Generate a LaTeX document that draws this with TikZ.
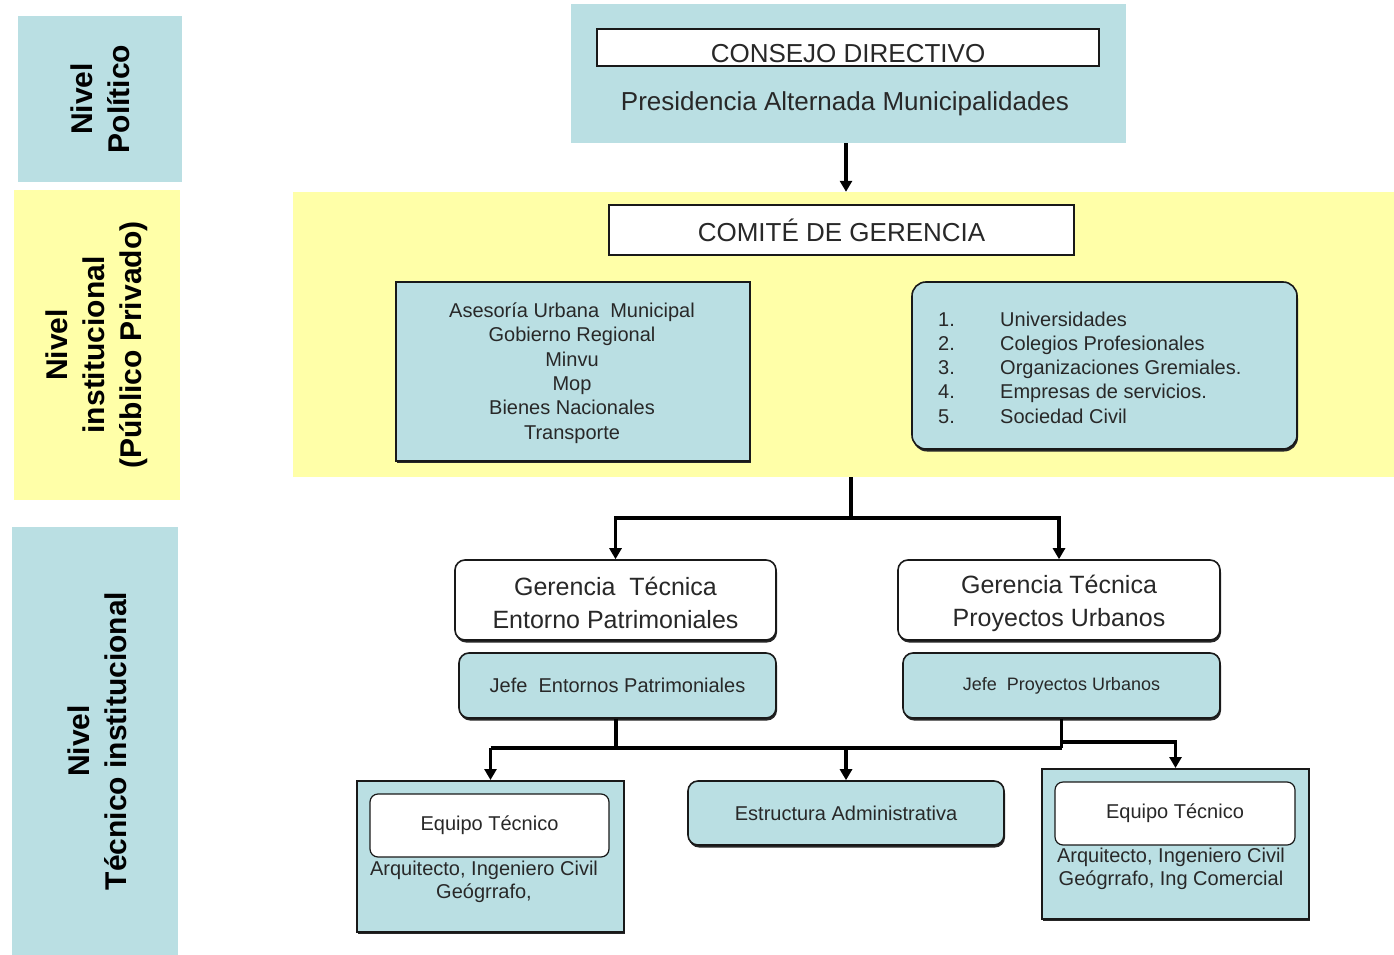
\documentclass[tikz,border=0pt]{standalone}
\usepackage{fontspec}
\setmainfont{Liberation Sans}
\usetikzlibrary{arrows.meta,shadows}
\definecolor{tealbg}{RGB}{186,223,227}
\definecolor{yelbg}{RGB}{255,255,168}
\definecolor{txt}{RGB}{40,40,40}
\tikzset{
  panel/.style={draw=none, inner sep=0pt},
  lbl/.style={rotate=90, align=center, font=\fontsize{30}{37}\selectfont\bfseries, text=black},
  sqbox/.style={draw=black!90, line width=2pt, inner sep=0pt, fill=tealbg, text=txt,
     drop shadow={shadow xshift=1pt, shadow yshift=-2pt, opacity=1, fill=black!85}},
  rbox/.style={draw=black!90, line width=1.6pt, rounded corners=10pt, inner sep=0pt, text=txt,
     drop shadow={shadow xshift=1pt, shadow yshift=-2.5pt, opacity=1, fill=black!85}},
  wbox/.style={draw=black!90, line width=1.4pt, inner sep=0pt, fill=white, text=txt},
  plain/.style={inner sep=0pt, text=txt, align=center},
  conn/.style={line width=3.5pt, draw=black},
  arr/.style={conn, -{Triangle[width=12pt,length=11pt]}},
}
\begin{document}
\begin{tikzpicture}[x=1pt,y=-1pt]
\useasboundingbox (0,0) rectangle (1394,955);
% left level labels
\node[panel, fill=tealbg, minimum width=164, minimum height=166] (lp) at (100,99) {};
\node[lbl] (lpt) at (lp) {Nivel\\Político};
\node[panel, fill=yelbg, minimum width=166, minimum height=310] (li) at (97,345) {};
\node[lbl] (lit) at (li) {Nivel\\institucional\\(Público Privado)};
\node[panel, fill=tealbg, minimum width=166, minimum height=428] (lt) at (95,741) {};
\node[lbl] (ltt) at ([xshift=2pt]lt.center) {Nivel\\Técnico institucional};
% top
\node[panel, fill=tealbg, minimum width=555, minimum height=139] (top) at (848.5,73.5) {};
\node[wbox, minimum width=502, minimum height=37, text height=34pt, text depth=3pt, font=\fontsize{26}{30}\selectfont] (cons) at (848,47.5) {CONSEJO DIRECTIVO};
\node[plain, font=\fontsize{26}{30}\selectfont] (pres) at (845,104) {Presidencia Alternada Municipalidades};
% institutional band
\node[panel, fill=yelbg, minimum width=1101, minimum height=285] (band) at (843.5,334.5) {};
\draw[arr] (top.south -| 846,0) -- (band.north -| 846,0);
\node[wbox, minimum width=465, minimum height=50, font=\fontsize{26}{30}\selectfont] (com) at (841.5,230) {COMITÉ DE GERENCIA};
\node[sqbox, minimum width=354, minimum height=179] (pub) at (573,371.5) {};
\node[plain, font=\fontsize{20}{24.4}\selectfont] (pubt) at (572,373) {Asesoría Urbana\ \ Municipal\\Gobierno Regional\\Minvu\\Mop\\Bienes Nacionales\\Transporte};
\node[rbox, rounded corners=14pt, fill=tealbg, minimum width=385, minimum height=167] (priv) at (1104.5,365.5) {};
\node[plain, align=left, anchor=west, font=\fontsize{20}{24.3}\selectfont] (privt) at (938,367.5)
 {\makebox[62pt][l]{1.}Universidades\\\makebox[62pt][l]{2.}Colegios Profesionales\\\makebox[62pt][l]{3.}Organizaciones Gremiales.\\\makebox[62pt][l]{4.}Empresas de servicios.\\\makebox[62pt][l]{5.}Sociedad Civil};
% gerencias
\coordinate (j1) at (851,518);
\node[rbox, fill=white, minimum width=321, minimum height=80] (gt1) at (615.5,600) {};
\node[plain, font=\fontsize{25}{33}\selectfont] (gt1t) at (615.5,603) {Gerencia\ \ Técnica\\Entorno Patrimoniales};
\node[rbox, fill=white, minimum width=322, minimum height=80] (gt2) at (1059,600) {};
\node[plain, font=\fontsize{25}{33}\selectfont] (gt2t) at (1059,603) {Gerencia Técnica\\Proyectos Urbanos};
\draw[conn] (band.south -| j1) -- (j1);
\draw[arr] (j1) -| (gt1.north);
\draw[arr] (j1) -| (gt2.north);
\node[rbox, fill=tealbg, minimum width=317, minimum height=65, font=\fontsize{20}{24}\selectfont] (jefe1) at (617.5,685.5) {Jefe\ \ Entornos Patrimoniales};
\node[rbox, fill=tealbg, minimum width=317, minimum height=65, font=\fontsize{18}{22}\selectfont] (jefe2) at (1061.5,685.5) {Jefe\ \ Proyectos Urbanos};
% bottom
\node[sqbox, minimum width=267, minimum height=151] (et1) at (490.5,856.5) {};
\node[wbox, rounded corners=8pt, line width=1.2pt, minimum width=239, minimum height=63, font=\fontsize{20}{24}\selectfont] (et1h) at (489.5,825.5) {Equipo Técnico};
\node[plain, font=\fontsize{20}{23}\selectfont] (et1t) at (484,881.5) {Arquitecto, Ingeniero Civil\\Geógrrafo,};
\node[rbox, fill=tealbg, minimum width=316, minimum height=64, font=\fontsize{20}{24}\selectfont] (ea) at (846,813) {Estructura Administrativa};
\node[sqbox, minimum width=267, minimum height=150] (et2) at (1175.5,844) {};
\node[wbox, rounded corners=8pt, line width=1.2pt, minimum width=240, minimum height=63, font=\fontsize{20}{24}\selectfont] (et2h) at (1175,813.5) {Equipo Técnico};
\node[plain, font=\fontsize{20}{23}\selectfont] (et2t) at (1171,868.5) {Arquitecto, Ingeniero Civil\\Geógrrafo, Ing Comercial};
\coordinate (hb) at (846,748);
\coordinate (br) at (1062,742);
\draw[conn] (jefe1.south -| 616,0) -- (hb -| 616,0);
\draw[conn] (jefe2.south) -- (jefe2.south |- hb);
\draw[conn] (et1.north |- hb) -- (jefe2.south |- hb);
\draw[arr] (et1.north |- hb) -- (et1.north);
\draw[arr] (hb) -- (ea.north);
\draw[arr] (jefe2.south |- br) -| (et2.north);
\end{tikzpicture}
\end{document}
